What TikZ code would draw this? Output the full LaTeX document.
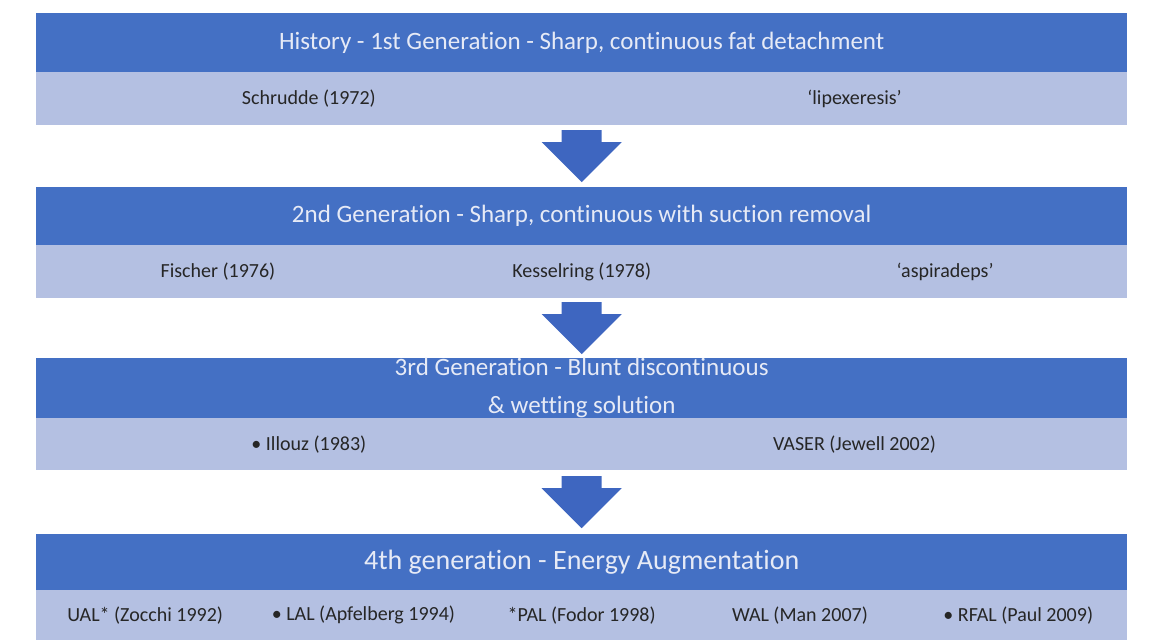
\documentclass[tikz,border=0pt]{standalone}
\usepackage{fontspec}
\setmainfont[Ligatures=NoCommon]{Carlito}
\usetikzlibrary{calc}

\definecolor{bandblue}{RGB}{68,112,196}
\definecolor{bandlight}{RGB}{180,192,226}
\definecolor{arrowblue}{RGB}{62,102,192}
\definecolor{headtext}{RGB}{230,234,246}

\begin{document}
\begin{tikzpicture}[
    x=1pt,
    y=-1pt,
    genband/.style={fill=bandblue,draw=none,anchor=north west,inner sep=0pt,
        minimum width=1091pt,minimum height=#1,text=headtext,align=center,
        font=\fontsize{25}{38}\selectfont},
    litband/.style={fill=bandlight,draw=none,anchor=north west,inner sep=0pt,
        minimum width=1091pt,minimum height=#1},
    entry/.style={font=\fontsize{20}{24}\selectfont,text=black!85,inner sep=0pt},
    blockarrow/.style={fill=arrowblue,draw=none}
]

% Page frame.
\useasboundingbox (0,0) rectangle (1159,640);

% Generation headings.
\node[genband=59pt] (gen1) at (36,13)
    {History - 1st Generation - Sharp, continuous fat detachment};
\node[genband=58pt] (gen2) at (36,187)
    {2nd Generation - Sharp, continuous with suction removal};
\node[genband=60pt] (gen3) at (36,358)
    {3rd Generation - Blunt discontinuous\\\& wetting solution};
\node[genband=56pt,font=\fontsize{28}{32}\selectfont] (gen4) at (36,534)
    {4th generation - Energy Augmentation};

% Literature rows.
\node[litband=53pt] (lit1) at (36,72) {};
\node[litband=53pt] (lit2) at (36,245) {};
\node[litband=52pt] (lit3) at (36,418) {};
\node[litband=50pt] (lit4) at (36,590) {};

% Row entries.
\node[entry] (schrudde) at ($(lit1.west)!0.25!(lit1.east)$) {Schrudde (1972)};
\node[entry] (lipex) at ($(lit1.west)!0.75!(lit1.east)$) {`lipexeresis'};

\node[entry] (fischer) at ($(lit2.west)!0.1667!(lit2.east)$) {Fischer (1976)};
\node[entry] (kessel) at ($(lit2.west)!0.5!(lit2.east)$) {Kesselring (1978)};
\node[entry] (aspir) at ($(lit2.west)!0.833!(lit2.east)$) {`aspiradeps'};

\node[entry] (illouz) at ($(lit3.west)!0.25!(lit3.east)$) {\textbullet\ Illouz (1983)};
\node[entry] (vaser) at ($(lit3.west)!0.75!(lit3.east)$) {VASER (Jewell 2002)};

\node[entry] (ual) at ($(lit4.west)!0.1!(lit4.east)$) {UAL* (Zocchi 1992)};
\node[entry] (lal) at ($(lit4.west)!0.3!(lit4.east)$) {\textbullet\ LAL (Apfelberg 1994)};
\node[entry] (pal) at ($(lit4.west)!0.5!(lit4.east)$) {*PAL (Fodor 1998)};
\node[entry] (wal) at ($(lit4.west)!0.7!(lit4.east)$) {WAL (Man 2007)};
\node[entry] (rfal) at ($(lit4.west)!0.9!(lit4.east)$) {\textbullet\ RFAL (Paul 2009)};

% Block arrows between the generations.
\foreach \a/\b in {lit1/gen2,lit2/gen3,lit3/gen4} {
    \coordinate (m) at ($(\a.south)!0.5!(\b.north)$);
    \fill[blockarrow] ($(m)+(-20,-26)$) -- ($(m)+(20,-26)$) -- ($(m)+(20,-14)$)
        -- ($(m)+(40,-14)$) -- ($(m)+(0,26)$) -- ($(m)+(-40,-14)$)
        -- ($(m)+(-20,-14)$) -- cycle;
}

\end{tikzpicture}
\end{document}
